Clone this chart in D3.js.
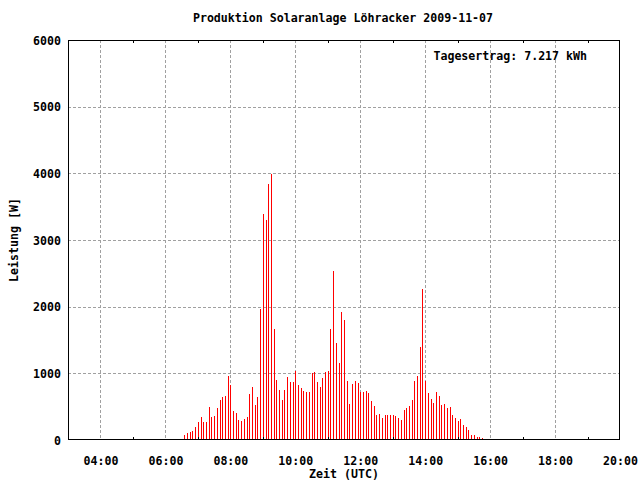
<!DOCTYPE html>
<html>
<head>
<meta charset="utf-8">
<script src="https://cdn.jsdelivr.net/npm/d3@7"></script>
<style>
  html, body { margin: 0; padding: 0; background: #fff; }
  svg { display: block; }
  text { font-family: "DejaVu Sans Mono", "Liberation Mono", monospace; font-weight: bold; font-size: 11.6px; fill: #000; }
</style>
</head>
<body>
<svg id="chart" width="640" height="480"></svg>
<script>
const chartTitle = "Produktion Solaranlage Löhracker 2009-11-07";
const xTitle = "Zeit (UTC)";
const yTitle = "Leistung [W]";
const annotation = "Tagesertrag: 7.217 kWh";

const xTickLabels = ["04:00","06:00","08:00","10:00","12:00","14:00","16:00","18:00","20:00"];
const xMinorLabels = ["05:00","07:00","09:00","11:00","13:00","15:00","17:00","19:00"];
const yTicks = [0,1000,2000,3000,4000,5000,6000];

const times = [
"06:25","06:30","06:35","06:40","06:45","06:50","06:55",
"07:00","07:05","07:10","07:15","07:20","07:25","07:30","07:35","07:40","07:45","07:50","07:55",
"08:00","08:05","08:10","08:15","08:20","08:25","08:30","08:35","08:40","08:45","08:50","08:55",
"09:00","09:05","09:10","09:15","09:20","09:25","09:30","09:35","09:40","09:45","09:50","09:55",
"10:00","10:05","10:10","10:15","10:20","10:25","10:30","10:35","10:40","10:45","10:50","10:55",
"11:00","11:05","11:10","11:15","11:20","11:25","11:30","11:35","11:40","11:45","11:50","11:55",
"12:00","12:05","12:10","12:15","12:20","12:25","12:30","12:35","12:40","12:45","12:50","12:55",
"13:00","13:05","13:10","13:15","13:20","13:25","13:30","13:35","13:40","13:45","13:50","13:55",
"14:00","14:05","14:10","14:15","14:20","14:25","14:30","14:35","14:40","14:45","14:50","14:55",
"15:00","15:05","15:10","15:15","15:20","15:25","15:30","15:35","15:40","15:45","15:50"
];
const power = [
15,15,75,105,120,135,195,
270,345,270,270,495,345,360,480,600,645,660,960,
825,440,400,305,290,320,350,685,800,520,640,1970,
3395,3305,3845,3995,1670,905,755,605,755,950,875,875,
1040,825,780,735,720,720,1005,1020,870,795,930,1020,
1035,1665,2535,1455,1155,1920,1800,885,540,840,885,855,
720,720,735,705,585,510,375,390,330,375,375,375,
375,360,330,300,450,480,510,600,885,960,1395,2265,
885,705,615,555,720,660,525,540,480,495,375,330,
285,315,225,195,150,75,75,45,45,30,15
];

const toMin = s => { const [h, m] = s.split(":").map(Number); return h * 60 + m; };

const svg = d3.select("#chart");
const L = 68, R = 620, T = 40, B = 440;

const x = d3.scaleLinear().domain([toMin("03:00"), toMin("20:00")]).range([L, R]);
const y = d3.scaleLinear().domain([0, 6000]).range([B, T]);

// grid
const grid = svg.append("g").attr("stroke", "#a0a0a0").attr("stroke-width", 1)
  .attr("stroke-dasharray", "3,2").attr("shape-rendering", "crispEdges");
xTickLabels.forEach(t => {
  const px = Math.round(x(toMin(t))) + 0.5;
  if (px < R) grid.append("line").attr("x1", px).attr("x2", px).attr("y1", T).attr("y2", B);
});
yTicks.forEach(v => {
  const py = Math.round(y(v)) + 0.5;
  if (v > 0 && v < 6000) grid.append("line").attr("x1", L).attr("x2", R).attr("y1", py).attr("y2", py);
});

// bars (impulses)
svg.append("g").selectAll("rect").data(times.map((t, i) => ({ t, v: power[i] })))
  .join("rect")
  .attr("x", d => Math.round(x(toMin(d.t))))
  .attr("width", 1)
  .attr("y", d => Math.round(y(d.v)))
  .attr("height", d => B - Math.round(y(d.v)))
  .attr("fill", "#ff0000")
  .attr("shape-rendering", "crispEdges");

// frame
svg.append("rect").attr("x", L + 0.5).attr("y", T + 0.5).attr("width", R - L - 1).attr("height", B - T - 1)
  .attr("fill", "none").attr("stroke", "#000").attr("stroke-width", 1).attr("shape-rendering", "crispEdges");

// minor x ticks
const mt = svg.append("g").attr("stroke", "#000").attr("shape-rendering", "crispEdges");
xMinorLabels.forEach(t => {
  const px = Math.round(x(toMin(t))) + 0.5;
  mt.append("line").attr("x1", px).attr("x2", px).attr("y1", B).attr("y2", B - 3);
  mt.append("line").attr("x1", px).attr("x2", px).attr("y1", T).attr("y2", T + 3);
});

// axes labels via d3 axis
const xAxis = d3.axisBottom(x).tickValues(xTickLabels.map(toMin))
  .tickFormat((d, i) => xTickLabels[i]).tickSize(0).tickPadding(0);
const gx = svg.append("g").attr("transform", `translate(0,${B})`).call(xAxis);
gx.select(".domain").remove();
gx.selectAll("text").attr("dy", null).attr("y", 25);

const yAxis = d3.axisLeft(y).tickValues(yTicks).tickFormat(d3.format("d")).tickSize(0).tickPadding(0);
const gy = svg.append("g").attr("transform", `translate(${L - 7},0)`).call(yAxis);
gy.select(".domain").remove();
gy.selectAll("text").attr("x", 0).attr("dy", "0.35em");
svg.selectAll(".tick text").attr("fill", "#000");
[gx, gy].forEach(g => g.attr("font-family", null).attr("font-size", null));

// titles
svg.append("text").attr("x", 343).attr("y", 22).attr("text-anchor", "middle").text(chartTitle);
svg.append("text").attr("x", 344).attr("y", 478).attr("text-anchor", "middle").text(xTitle);
svg.append("text").attr("transform", "translate(18,240) rotate(-90)").attr("text-anchor", "middle").text(yTitle);
svg.append("text").attr("x", 587).attr("y", 60).attr("text-anchor", "end").text(annotation);
</script>
</body>
</html>
